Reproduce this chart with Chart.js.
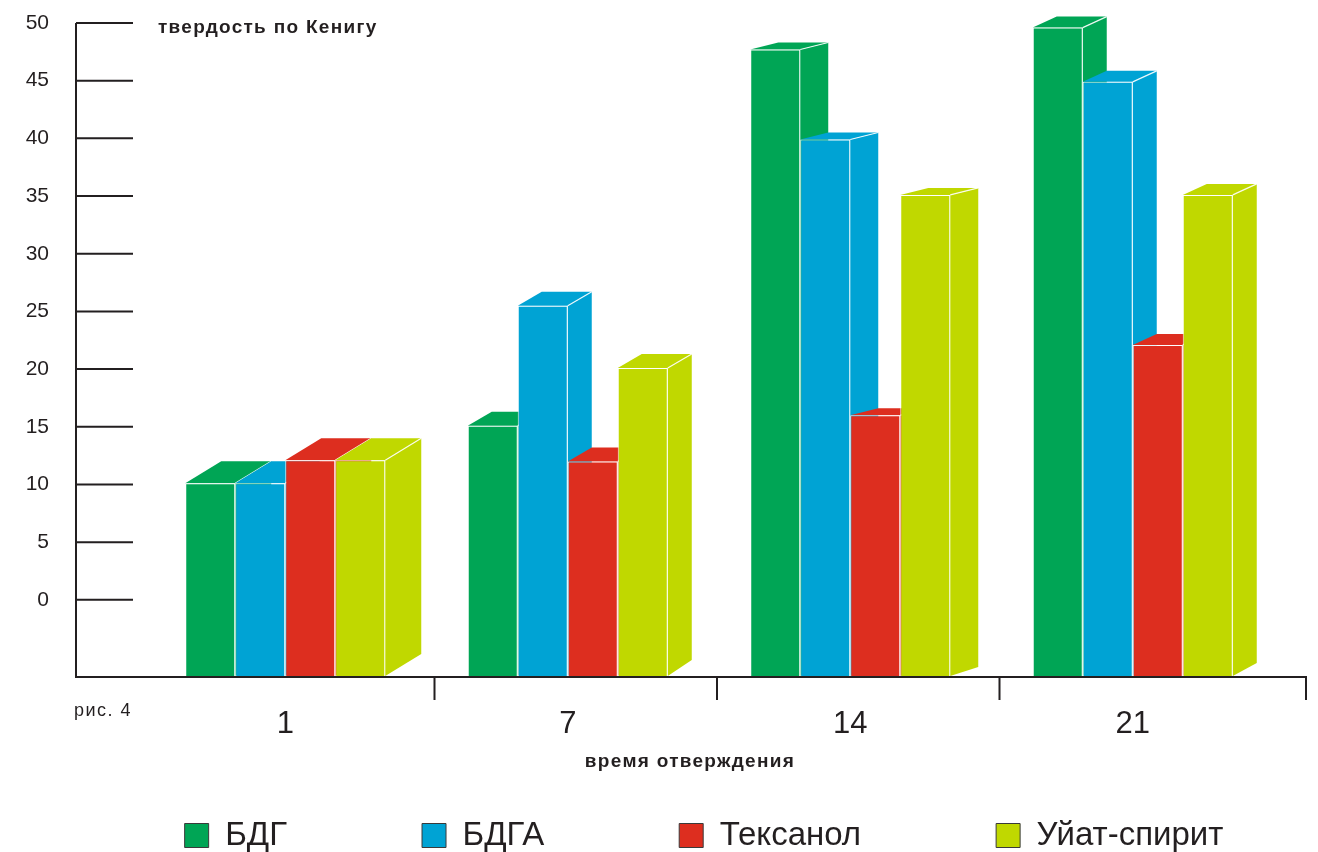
<!DOCTYPE html>
<html lang="ru">
<head>
<meta charset="utf-8">
<title>твердость по Кенигу</title>
<script src="https://cdn.jsdelivr.net/npm/chart.js@4.4.1/dist/chart.umd.min.js"></script>
<style>
  html, body { margin: 0; padding: 0; background: #fff; }
</style>
</head>
<body>
<canvas id="grafico" width="1318" height="852"></canvas>
<script>
// datos (рис. 4)
const categorias = ['1', '7', '14', '21'];
const nombresSeries = ['БДГ', 'БДГА', 'Тексанол', 'Уйат-спирит'];
const valoresBDG = [10.1, 15.1, 47.7, 49.6];
const valoresBDGA = [10.1, 25.5, 39.9, 44.9];
const valoresTexanol = [12.1, 12.0, 16.0, 22.1];
const valoresUaitSpirit = [12.1, 20.1, 35.1, 35.1];
const ticksY = [0, 5, 10, 15, 20, 25, 30, 35, 40, 45, 50];
const minY = -6.6;
const maxY = 50;

const colores = ['#00a555', '#00a3d4', '#dd2e1f', '#c0d800'];
const fuenteNormal = "'Liberation Sans', Arial, sans-serif";
const colorTexto = '#231f20';

// caras 3D: tapa y lateral de cada barra, dibujadas en orden izquierda -> derecha
const barras3D = {
    id: 'barras3D',
    beforeDatasetsDraw(chart, args, opts) {
        const ctx = chart.ctx;
        ctx.save();
        chart.data.labels.forEach((lab, j) => {
            const dx = opts.fondoX[j];
            const dyT = opts.fondoArriba[j];
            const dyB = opts.fondoAbajo[j];
            chart.data.datasets.forEach((ds, i) => {
                const bar = chart.getDatasetMeta(i).data[j];
                const { x, y, base, width } = bar.getProps(['x', 'y', 'base', 'width'], true);
                const l = x - width / 2;
                const r = x + width / 2;
                ctx.fillStyle = ds.backgroundColor;
                // lateral
                ctx.beginPath();
                ctx.moveTo(r, y);
                ctx.lineTo(r + dx, y - dyT);
                ctx.lineTo(r + dx, base - dyB);
                ctx.lineTo(r, base);
                ctx.closePath();
                ctx.fill();
                // tapa
                ctx.beginPath();
                ctx.moveTo(l, y);
                ctx.lineTo(l + dx, y - dyT);
                ctx.lineTo(r + dx, y - dyT);
                ctx.lineTo(r, y);
                ctx.closePath();
                ctx.fill();
                // arista entre tapa y lateral
                ctx.strokeStyle = opts.arista;
                ctx.lineWidth = 1.2;
                ctx.beginPath();
                ctx.moveTo(r, y);
                ctx.lineTo(r + dx, y - dyT);
                ctx.stroke();
                bar.draw(ctx);
            });
        });
        ctx.restore();
        return false;
    }
};

// ejes dibujados a mano: línea vertical con marcas cortas, base con separadores
const ejes = {
    id: 'ejes',
    afterLayout(chart, args, opts) {
        // leyenda en una sola fila, centrada bajo el gráfico
        const lg = chart.legend;
        lg.maxWidth = opts.anchoLeyenda;
        lg.fit();
        lg.left = opts.centroLeyenda - opts.anchoLeyenda / 2;
        lg.right = opts.centroLeyenda + opts.anchoLeyenda / 2;
        lg.top = opts.arribaLeyenda;
        lg.bottom = chart.height;
        lg.height = lg.bottom - lg.top;
    },
    afterDraw(chart, args, opts) {
        const { ctx, scales: { x, y } } = chart;
        const fondo = y.getPixelForValue(minY) + 1;
        const fin = chart.chartArea.right + opts.extraDerecha;
        ctx.save();
        ctx.strokeStyle = colorTexto;
        ctx.lineWidth = 2;
        ctx.beginPath();
        ctx.moveTo(opts.ejeX, y.getPixelForValue(maxY));
        ctx.lineTo(opts.ejeX, fondo);
        ctx.lineTo(fin, fondo);
        ticksY.forEach(v => {
            const py = y.getPixelForValue(v);
            ctx.moveTo(opts.ejeX, py);
            ctx.lineTo(opts.ejeX + opts.largoMarca, py);
        });
        for (let i = 0; i < categorias.length - 1; i++) {
            const px = (x.getPixelForValue(i) + x.getPixelForValue(i + 1)) / 2 + opts.desplazaSep;
            ctx.moveTo(px, fondo);
            ctx.lineTo(px, fondo + opts.largoSep);
        }
        ctx.moveTo(fin, fondo - 1);
        ctx.lineTo(fin, fondo + opts.largoSep);
        ctx.stroke();

        ctx.fillStyle = colorTexto;
        ctx.textBaseline = 'alphabetic';
        ctx.letterSpacing = '1.3px';
        ctx.textAlign = 'left';
        ctx.font = 'bold 19px ' + fuenteNormal;
        ctx.fillText('твердость по Кенигу', opts.tituloY.x, opts.tituloY.y);
        ctx.textAlign = 'center';
        ctx.fillText('время отверждения', opts.tituloX.x, opts.tituloX.y);
        ctx.textAlign = 'left';
        ctx.letterSpacing = '1.5px';
        ctx.font = '18px ' + fuenteNormal;
        ctx.fillText('рис. 4', opts.ejeX - 2, opts.pie.y);
        ctx.restore();
    }
};

const series = [valoresBDG, valoresBDGA, valoresTexanol, valoresUaitSpirit];

new Chart(document.getElementById('grafico'), {
    type: 'bar',
    data: {
        labels: categorias,
        datasets: series.map((vals, i) => ({
            label: nombresSeries[i],
            data: vals,
            backgroundColor: colores[i],
            borderColor: 'rgba(255,255,255,0.9)',
            borderWidth: 1,
            base: minY,
            barPercentage: 1,
            categoryPercentage: 0.708
        }))
    },
    options: {
        responsive: false,
        animation: false,
        layout: { padding: { top: 23, left: 0, right: 44, bottom: 0 } },
        scales: {
            x: {
                offset: true,
                afterFit(scale) { scale.height = 70; },
                grid: { display: false, drawTicks: false },
                border: { display: false },
                ticks: { padding: 30, color: colorTexto, font: { family: fuenteNormal, size: 31 } }
            },
            y: {
                min: minY,
                max: maxY,
                afterBuildTicks(scale) { scale.ticks = ticksY.map(v => ({ value: v })); },
                afterFit(scale) {
                    scale.width = 144;
                    scale.paddingTop = 12;
                    scale.paddingBottom = 12;
                },
                grid: { display: false, drawTicks: false },
                border: { display: false },
                ticks: { padding: 95, color: colorTexto, font: { family: fuenteNormal, size: 21 } }
            }
        },
        plugins: {
            tooltip: { enabled: false },
            legend: {
                position: 'bottom',
                maxHeight: 106,
                labels: {
                    boxWidth: 24,
                    boxHeight: 24,
                    padding: 135,
                    color: colorTexto,
                    font: { family: fuenteNormal, size: 33 },
                    generateLabels(chart) {
                        const items = Chart.defaults.plugins.legend.labels.generateLabels(chart);
                        items.forEach(it => { it.strokeStyle = '#3a3a3a'; it.lineWidth = 1; });
                        return items;
                    }
                }
            },
            barras3D: {
                fondoX: [36, 24, 28, 24],
                fondoArriba: [22, 14, 7, 11],
                fondoAbajo: [22, 16, 9, 13],
                arista: 'rgba(255,255,255,0.9)'
            },
            ejes: {
                ejeX: 76,
                largoMarca: 57,
                largoSep: 23,
                desplazaSep: 8,
                extraDerecha: 32,
                centroLeyenda: 704,
                anchoLeyenda: 1500,
                arribaLeyenda: 684,
                tituloY: { x: 158, y: 33 },
                tituloX: { x: 690, y: 767 },
                pie: { y: 716 }
            }
        }
    },
    plugins: [barras3D, ejes]
});
</script>
</body>
</html>
